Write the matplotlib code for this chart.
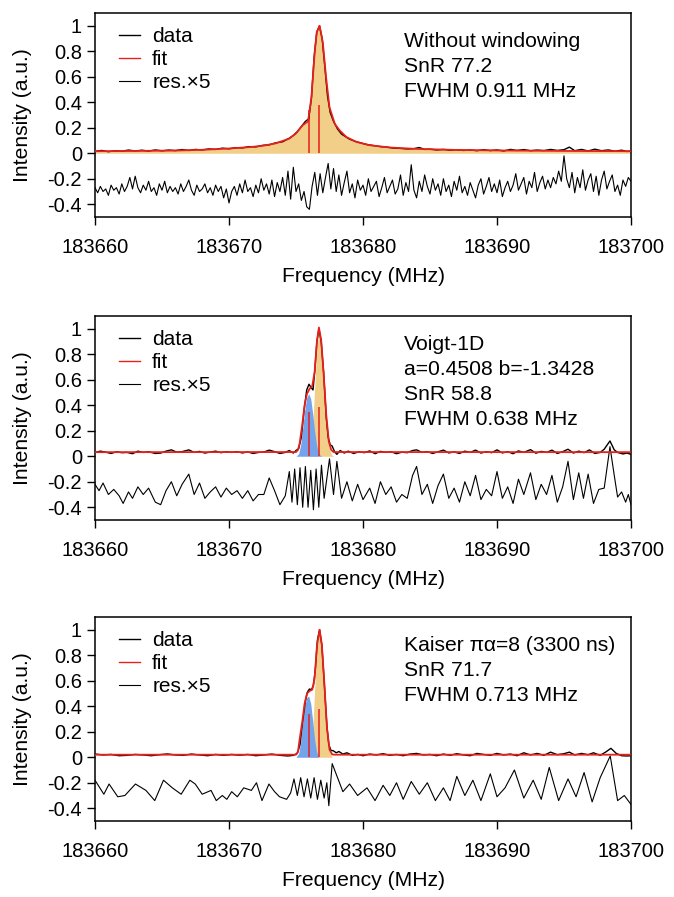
import numpy as np
import matplotlib
matplotlib.use("Agg")
import matplotlib.pyplot as plt
from matplotlib.lines import Line2D

plt.rcParams['font.family'] = ['Liberation Sans', 'DejaVu Sans']
plt.rcParams['font.size'] = 14.5

# ---------------- data ----------------
x_ticks = [183660, 183670, 183680, 183690, 183700]
y_ticks = [-0.4, -0.2, 0, 0.2, 0.4, 0.6, 0.8, 1]
y_tick_labels = ['-0.4', '-0.2', '0', '0.2', '0.4', '0.6', '0.8', '1']
x_label = 'Frequency (MHz)'
y_label = 'Intensity (a.u.)'
legend_labels = ['data', 'fit', 'res.×5']

texts1 = ['Without windowing', 'SnR 77.2', 'FWHM 0.911 MHz']
texts2 = ['Voigt-1D', 'a=0.4508 b=-1.3428', 'SnR 58.8', 'FWHM 0.638 MHz']
texts3 = ['Kaiser πα=8 (3300 ns)', 'SnR 71.7', 'FWHM 0.713 MHz']

# --- panel 1 (without windowing) ---
data1_f = [183660.0, 183660.5, 183661.0, 183661.5, 183662.0, 183662.5, 183663.0, 183663.5, 183664.0, 183664.5,
           183665.0, 183665.5, 183666.0, 183666.5, 183667.0, 183667.5, 183668.0, 183668.5, 183669.0, 183669.5,
           183670.0, 183670.5, 183671.0, 183671.5, 183672.0, 183672.5, 183673.0, 183673.5, 183674.0, 183674.5,
           183674.8, 183675.1, 183675.4, 183675.7, 183675.95, 183676.15, 183676.35, 183676.55, 183676.75, 183676.95,
           183677.15, 183677.35, 183677.55, 183677.8, 183678.1, 183678.4, 183678.7, 183679.0, 183679.4, 183679.8,
           183680.3, 183680.8, 183681.3, 183681.8, 183682.3, 183682.8, 183683.3, 183683.8, 183684.2, 183684.6,
           183685.0, 183685.5, 183686.0, 183686.5, 183687.0, 183687.5, 183688.0, 183688.5, 183689.0, 183689.5,
           183690.0, 183690.5, 183691.0, 183691.5, 183692.0, 183692.5, 183693.0, 183693.5, 183694.0, 183694.5,
           183695.0, 183695.4, 183695.8, 183696.3, 183696.8, 183697.3, 183697.8, 183698.3, 183698.8, 183699.3,
           183699.7, 183700.0]
data1_v = [0.015, 0.022, 0.012, 0.020, 0.016, 0.025, 0.018, 0.024, 0.017, 0.026,
           0.019, 0.025, 0.021, 0.029, 0.022, 0.030, 0.026, 0.034, 0.030, 0.040,
           0.035, 0.044, 0.042, 0.052, 0.050, 0.062, 0.066, 0.082, 0.090, 0.118,
           0.140, 0.17, 0.21, 0.25, 0.27, 0.43, 0.75, 0.95, 1.0, 0.90,
           0.68, 0.45, 0.32, 0.25, 0.19, 0.15, 0.13, 0.11, 0.094, 0.082,
           0.068, 0.060, 0.052, 0.048, 0.040, 0.038, 0.034, 0.036, 0.045, 0.030,
           0.032, 0.026, 0.030, 0.024, 0.028, 0.022, 0.026, 0.020, 0.028, 0.021,
           0.026, 0.018, 0.030, 0.022, 0.029, 0.020, 0.025, 0.021, 0.030, 0.022,
           0.028, 0.048, 0.020, 0.030, 0.018, 0.032, 0.020, 0.026, 0.016, 0.024,
           0.014, 0.018]

fit1_f = [183660, 183663, 183666, 183668, 183670, 183671.5, 183672.5, 183673.5, 183674.5, 183675.0,
          183675.5, 183675.9, 183676.15, 183676.4, 183676.55, 183676.76, 183677.0, 183677.25, 183677.5, 183677.9,
          183678.25, 183678.75, 183679.5, 183680.5, 183682, 183684, 183687, 183690, 183695, 183700]
fit1_v = [0.016, 0.018, 0.021, 0.027, 0.037, 0.048, 0.058, 0.078, 0.115, 0.155,
          0.22, 0.25, 0.44, 0.80, 0.95, 1.0, 0.87, 0.59, 0.36, 0.23,
          0.18, 0.128, 0.089, 0.063, 0.045, 0.034, 0.026, 0.022, 0.018, 0.016]

res1_v = [-0.27, -0.31, -0.26, -0.30, -0.28, -0.33, -0.25, -0.29, -0.27, -0.32,
          -0.24, -0.30, -0.26, -0.19, -0.28, -0.18, -0.27, -0.31, -0.25, -0.29,
          -0.22, -0.30, -0.27, -0.33, -0.24, -0.29, -0.22, -0.31, -0.26, -0.30,
          -0.27, -0.32, -0.24, -0.30, -0.26, -0.21, -0.29, -0.33, -0.25, -0.30,
          -0.28, -0.24, -0.31, -0.27, -0.33, -0.25, -0.30, -0.26, -0.35, -0.28,
          -0.39, -0.30, -0.26, -0.33, -0.24, -0.31, -0.21, -0.30, -0.27, -0.34,
          -0.25, -0.31, -0.20, -0.29, -0.24, -0.32, -0.21, -0.34, -0.23, -0.30,
          -0.19, -0.33, -0.14, -0.36, -0.11, -0.30, -0.24, -0.37, -0.30, -0.42,
          -0.44, -0.26, -0.15, -0.33, -0.16, -0.31, -0.19, -0.08, -0.28, -0.12,
          -0.30, -0.17, -0.33, -0.23, -0.14, -0.31, -0.24, -0.35, -0.21, -0.29,
          -0.25, -0.33, -0.20, -0.30, -0.26, -0.22, -0.34, -0.27, -0.19, -0.31,
          -0.26, -0.21, -0.32, -0.28, -0.17, -0.33, -0.23, -0.30, -0.09, -0.29,
          -0.35, -0.22, -0.30, -0.17, -0.26, -0.32, -0.20, -0.29, -0.24, -0.33,
          -0.20, -0.30, -0.25, -0.34, -0.22, -0.29, -0.18, -0.31, -0.26, -0.33,
          -0.23, -0.29, -0.35, -0.25, -0.20, -0.32, -0.26, -0.19, -0.30, -0.24,
          -0.31, -0.21, -0.34, -0.27, -0.22, -0.30, -0.25, -0.16, -0.29, -0.24,
          -0.19, -0.32, -0.22, -0.27, -0.15, -0.30, -0.23, -0.18, -0.28, -0.21,
          -0.27, -0.19, -0.24, -0.14, -0.22, -0.02, -0.20, -0.27, -0.15, -0.31,
          -0.19, -0.27, -0.13, -0.29, -0.21, -0.16, -0.30, -0.18, -0.33, -0.21,
          -0.14, -0.28, -0.22, -0.17, -0.30, -0.25, -0.33, -0.21, -0.26, -0.19,
          -0.22]
res1_f0, res1_f1 = 183660.0, 183700.0

comp1_f = fit1_f
comp1_v = fit1_v
stick1_f = [183675.96, 183676.70]
stick1_h = [0.343, 0.38]

# --- panel 2 (Voigt-1D) ---
data2_f = [183660.0, 183660.4, 183660.8, 183661.2, 183661.6, 183662.0, 183662.4, 183662.8, 183663.2, 183663.6,
           183664.0, 183664.5, 183664.9, 183665.3, 183665.7, 183666.1, 183666.5, 183667.0, 183667.4, 183667.8,
           183668.2, 183668.6, 183669.0, 183669.4, 183669.8, 183670.2, 183670.6, 183671.0, 183671.4, 183671.8,
           183672.2, 183672.6, 183673.0, 183673.4, 183673.8, 183674.2, 183674.5, 183674.8, 183675.0, 183675.2,
           183675.4, 183675.6, 183675.8, 183675.97, 183676.12, 183676.27, 183676.41, 183676.56, 183676.71, 183676.88,
           183677.06, 183677.26, 183677.4, 183677.55, 183677.7, 183677.88, 183678.05, 183678.3, 183678.6, 183678.9,
           183679.3, 183679.7, 183680.1, 183680.5, 183680.9, 183681.3, 183681.7, 183682.1, 183682.5, 183682.9,
           183683.3, 183683.7, 183684.0, 183684.4, 183684.8, 183685.2, 183685.6, 183686.0, 183686.4, 183686.8,
           183687.2, 183687.6, 183688.0, 183688.4, 183688.8, 183689.2, 183689.6, 183690.0, 183690.4, 183690.8,
           183691.2, 183691.6, 183692.0, 183692.5, 183692.9, 183693.3, 183693.7, 183694.1, 183694.5, 183694.9,
           183695.3, 183695.7, 183696.1, 183696.5, 183696.9, 183697.3, 183697.7, 183698.0, 183698.43, 183698.75,
           183699.0, 183699.4, 183699.7, 183700.0]
data2_v = [0.030, 0.040, 0.032, 0.022, 0.035, 0.028, 0.030, 0.020, 0.040, 0.030,
           0.035, 0.022, 0.025, 0.040, 0.050, 0.032, 0.036, 0.050, 0.030, 0.038,
           0.025, 0.033, 0.040, 0.028, 0.035, 0.030, 0.036, 0.026, 0.034, 0.022,
           0.030, 0.033, 0.048, 0.036, 0.022, 0.030, 0.045, 0.025, 0.045, 0.06,
           0.15, 0.36, 0.52, 0.565, 0.54, 0.52, 0.68, 0.90, 1.0, 0.90,
           0.66, 0.30, 0.15, 0.09, 0.08, 0.035, 0.015, 0.045, 0.025, 0.040,
           0.022, 0.035, 0.028, 0.042, 0.020, 0.038, 0.030, 0.035, 0.020, 0.032,
           0.028, 0.045, 0.050, 0.030, 0.036, 0.022, 0.035, 0.048, 0.026, 0.034,
           0.022, 0.040, 0.030, 0.048, 0.025, 0.036, 0.028, 0.050, 0.026, 0.036,
           0.020, 0.042, 0.030, 0.052, 0.024, 0.038, 0.030, 0.048, 0.022, 0.036,
           0.055, 0.025, 0.040, 0.028, 0.050, 0.022, 0.030, 0.055, 0.120, 0.050,
           0.030, 0.018, 0.025, 0.015]

fit2_f = [183660, 183675.0, 183675.15, 183675.27, 183675.47, 183675.64, 183675.82, 183676.02, 183676.21, 183676.39,
          183676.56, 183676.71, 183676.88, 183677.06, 183677.26, 183677.45, 183677.63, 183677.8, 183700]
fit2_v = [0.032, 0.033, 0.05, 0.10, 0.25, 0.40, 0.49, 0.53, 0.55, 0.66,
          0.90, 1.01, 0.91, 0.65, 0.32, 0.115, 0.05, 0.033, 0.032]

res2_f = [183660.0, 183660.3, 183660.6, 183661.0, 183661.4, 183661.8, 183662.1, 183662.5, 183662.8, 183663.2,
          183663.6, 183664.0, 183664.5, 183664.9, 183665.3, 183665.7, 183666.1, 183666.5, 183667.0, 183667.4,
          183667.8, 183668.2, 183668.6, 183669.0, 183669.4, 183669.8, 183670.2, 183670.6, 183671.0, 183671.4,
          183671.8, 183672.2, 183672.6, 183673.0, 183673.4, 183673.8, 183674.2, 183674.5, 183674.7, 183674.9,
          183675.1, 183675.3, 183675.5, 183675.7, 183675.9, 183676.1, 183676.3, 183676.5, 183676.7, 183676.9,
          183677.1, 183677.5, 183677.8, 183678.05, 183678.4, 183678.8, 183679.2, 183679.6, 183680.0, 183680.5,
          183680.9, 183681.3, 183681.7, 183682.1, 183682.5, 183682.9, 183683.3, 183683.7, 183684.0, 183684.4,
          183684.8, 183685.2, 183685.6, 183686.0, 183686.4, 183686.8, 183687.2, 183687.6, 183688.0, 183688.4,
          183688.8, 183689.2, 183689.6, 183690.0, 183690.4, 183690.8, 183691.2, 183691.6, 183692.0, 183692.5,
          183692.9, 183693.3, 183693.7, 183694.1, 183694.5, 183694.9, 183695.3, 183695.7, 183696.1, 183696.45,
          183696.8, 183697.2, 183697.6, 183698.0, 183698.43, 183698.75, 183699.0, 183699.3, 183699.6, 183699.8,
          183700.0]
res2_v = [-0.22, -0.27, -0.21, -0.30, -0.26, -0.31, -0.37, -0.28, -0.33, -0.24,
          -0.30, -0.25, -0.36, -0.38, -0.27, -0.20, -0.31, -0.22, -0.14, -0.30,
          -0.21, -0.33, -0.28, -0.24, -0.32, -0.25, -0.30, -0.27, -0.33, -0.27,
          -0.35, -0.30, -0.30, -0.17, -0.27, -0.38, -0.31, -0.12, -0.36, -0.10,
          -0.38, -0.09, -0.40, -0.08, -0.40, -0.11, -0.42, -0.10, -0.40, -0.07,
          -0.33, -0.02, -0.30, -0.04, -0.33, -0.20, -0.35, -0.22, -0.34, -0.25,
          -0.37, -0.20, -0.30, -0.24, -0.36, -0.30, -0.33, -0.15, -0.08, -0.30,
          -0.22, -0.37, -0.23, -0.14, -0.33, -0.25, -0.36, -0.20, -0.31, -0.15,
          -0.34, -0.26, -0.31, -0.12, -0.33, -0.24, -0.37, -0.18, -0.30, -0.13,
          -0.34, -0.22, -0.30, -0.15, -0.36, -0.24, -0.04, -0.34, -0.13, -0.33,
          -0.14, -0.37, -0.26, -0.25, 0.075, -0.15, -0.32, -0.28, -0.36, -0.30,
          -0.38]

blue2_f = [183675.0, 183675.2, 183675.35, 183675.5, 183675.65, 183675.8, 183675.95, 183676.1, 183676.25, 183676.4,
           183676.55, 183676.7, 183676.9]
blue2_v = [0.0, 0.02, 0.09, 0.22, 0.36, 0.46, 0.49, 0.45, 0.33, 0.19,
           0.08, 0.02, 0.0]
orange2_f = [183675.9, 183676.1, 183676.25, 183676.4, 183676.55, 183676.72, 183676.9, 183677.06, 183677.26, 183677.45,
             183677.63, 183677.8]
orange2_v = [0.0, 0.06, 0.25, 0.55, 0.85, 0.97, 0.88, 0.62, 0.29, 0.08,
             0.015, 0.0]
stick2_f = [183675.96, 183676.70]
stick2_h = [0.35, 0.39]

# --- panel 3 (Kaiser) ---
data3_f = [183660.0, 183660.6, 183661.2, 183661.8, 183662.4, 183663.0, 183663.6, 183664.2, 183664.8, 183665.4,
           183666.0, 183666.6, 183667.2, 183667.8, 183668.4, 183669.0, 183669.6, 183670.2, 183670.8, 183671.4,
           183672.0, 183672.6, 183673.2, 183673.8, 183674.4, 183674.8, 183675.1, 183675.3, 183675.5, 183675.7,
           183675.85, 183676.0, 183676.15, 183676.3, 183676.45, 183676.6, 183676.76, 183676.93, 183677.11, 183677.31,
           183677.45, 183677.6, 183677.8, 183678.0, 183678.2, 183678.5, 183678.8, 183679.2, 183679.6, 183680.0,
           183680.5, 183681.0, 183681.5, 183682.0, 183682.5, 183683.0, 183683.5, 183684.0, 183684.5, 183685.0,
           183685.5, 183686.0, 183686.5, 183687.0, 183687.5, 183688.0, 183688.5, 183689.0, 183689.5, 183690.0,
           183690.5, 183691.0, 183691.5, 183692.0, 183692.5, 183693.0, 183693.5, 183694.0, 183694.5, 183695.0,
           183695.4, 183695.8, 183696.3, 183696.8, 183697.2, 183697.7, 183698.1, 183698.5, 183698.9, 183699.3,
           183699.7, 183700.0]
data3_v = [0.025, 0.018, 0.022, 0.012, 0.015, 0.022, 0.018, 0.012, 0.020, 0.026,
           0.018, 0.015, 0.025, 0.018, 0.012, 0.022, 0.015, 0.022, 0.016, 0.022,
           0.012, 0.018, 0.025, 0.015, 0.010, 0.015, 0.03, 0.10, 0.28, 0.44,
           0.51, 0.535, 0.53, 0.56, 0.70, 0.92, 1.0, 0.88, 0.58, 0.24,
           0.10, 0.055, 0.050, 0.035, 0.045, 0.025, 0.035, 0.015, 0.022, 0.012,
           0.025, 0.018, 0.028, 0.015, 0.022, 0.012, 0.025, 0.030, 0.018, 0.022,
           0.012, 0.025, 0.015, 0.028, 0.018, 0.012, 0.030, 0.022, 0.015, 0.030,
           0.018, 0.025, 0.012, 0.035, 0.018, 0.030, 0.015, 0.040, 0.020, 0.028,
           0.040, 0.018, 0.030, 0.020, 0.035, 0.015, 0.040, 0.070, 0.030, 0.012,
           0.010, 0.012]

fit3_f = [183660, 183675.0, 183675.15, 183675.27, 183675.47, 183675.64, 183675.82, 183676.02, 183676.21, 183676.39,
          183676.56, 183676.76, 183676.93, 183677.11, 183677.31, 183677.50, 183677.70, 183677.9, 183700]
fit3_v = [0.02, 0.02, 0.045, 0.14, 0.28, 0.42, 0.50, 0.52, 0.53, 0.62,
          0.87, 1.0, 0.88, 0.59, 0.23, 0.06, 0.022, 0.02, 0.02]

res3_f = [183660.0, 183660.66, 183661.05, 183661.7, 183662.23, 183663.02, 183663.8, 183664.46, 183665.11, 183665.77,
          183666.43, 183667.08, 183667.48, 183668.0, 183668.66, 183669.05, 183669.5, 183669.84, 183670.2, 183670.62,
          183671.1, 183671.67, 183672.05, 183672.46, 183672.98, 183673.4, 183673.77, 183674.3, 183674.6, 183674.85,
          183675.1, 183675.35, 183675.6, 183675.85, 183676.1, 183676.35, 183676.6, 183676.85, 183677.1, 183677.3,
          183677.45, 183677.7, 183678.1, 183678.5, 183679.0, 183679.6, 183680.3, 183680.9, 183681.5, 183682.0,
          183682.5, 183683.0, 183683.6, 183684.2, 183684.8, 183685.4, 183686.0, 183686.5, 183687.0, 183687.6,
          183688.2, 183688.8, 183689.5, 183690.0, 183690.6, 183691.3, 183692.0, 183692.7, 183693.3, 183693.9,
          183694.6, 183695.3, 183695.9, 183696.5, 183697.1, 183697.7, 183698.45, 183699.0, 183699.5, 183700.0]
res3_v = [-0.18, -0.29, -0.21, -0.31, -0.30, -0.21, -0.26, -0.34, -0.18, -0.24,
          -0.29, -0.18, -0.21, -0.29, -0.26, -0.34, -0.30, -0.33, -0.27, -0.31,
          -0.24, -0.26, -0.20, -0.34, -0.21, -0.27, -0.31, -0.33, -0.28, -0.17,
          -0.30, -0.16, -0.31, -0.17, -0.32, -0.16, -0.33, -0.18, -0.32, -0.20,
          -0.38, -0.05, -0.16, -0.27, -0.21, -0.30, -0.24, -0.34, -0.22, -0.30,
          -0.20, -0.33, -0.19, -0.29, -0.20, -0.34, -0.24, -0.34, -0.15, -0.30,
          -0.18, -0.34, -0.13, -0.31, -0.24, -0.10, -0.32, -0.18, -0.33, -0.08,
          -0.34, -0.17, -0.31, -0.12, -0.35, -0.16, 0.01, -0.34, -0.30, -0.37]

blue3_f = [183675.0, 183675.2, 183675.35, 183675.5, 183675.65, 183675.8, 183675.95, 183676.1, 183676.25, 183676.4,
           183676.55, 183676.7]
blue3_v = [0.0, 0.03, 0.12, 0.27, 0.40, 0.47, 0.48, 0.42, 0.28, 0.13,
           0.04, 0.0]
orange3_f = [183675.95, 183676.1, 183676.25, 183676.4, 183676.55, 183676.74, 183676.93, 183677.11, 183677.31, 183677.5,
             183677.7]
orange3_v = [0.0, 0.05, 0.22, 0.55, 0.85, 0.98, 0.86, 0.57, 0.21, 0.04,
             0.0]
stick3_f = [183675.96, 183676.70]
stick3_h = [0.34, 0.376]

# ---------------- drawing ----------------
ORANGE = '#F2CF88'
BLUE = '#74A3EC'
RED = '#E8201A'

fig = plt.figure(figsize=(6.74, 8.97), dpi=100)
W, H = 674.0, 897.0
left, right = 95.0, 631.0
panel_tops = [13.0, 316.0, 617.0]
panel_h = 204.0


def make_axes(top):
    return fig.add_axes([left / W, 1 - (top + panel_h) / H, (right - left) / W, panel_h / H])


def style(ax, texts):
    ax.set_xlim(183660, 183700)
    ax.set_ylim(-0.5, 1.1)
    ax.set_xticks(x_ticks)
    ax.set_xticklabels([str(t) for t in x_ticks])
    ax.set_yticks(y_ticks)
    ax.set_yticklabels(y_tick_labels)
    ax.tick_params(direction='out', length=5.8, width=1.0, pad=3.5, labelsize=14.5,
                   top=False, right=False)
    ax.tick_params(axis='x', pad=9)
    for s in ax.spines.values():
        s.set_linewidth(1.1)
    ax.set_xlabel(x_label, fontsize=15.2, labelpad=7.5)
    ax.set_ylabel(y_label, fontsize=15.2)
    ax.yaxis.set_label_coords(-0.118, 0.5)
    for i, t in enumerate(texts):
        ax.text(0.577, 1 - (28.0 + 25.2 * i) / panel_h, t, transform=ax.transAxes,
                fontsize=15.2, va='center', ha='left')
    handles = [Line2D([], [], color='black', lw=1.0),
               Line2D([], [], color=RED, lw=1.0),
               Line2D([], [], color='black', lw=0.8)]
    ax.legend(handles, legend_labels, loc='upper left', bbox_to_anchor=(0.025, 1 - 3.5 / panel_h),
              frameon=False, handlelength=1.0, handletextpad=0.6, labelspacing=0.2,
              borderaxespad=0.3, borderpad=0.2, fontsize=15)


def panel(ax, data_f, data_v, fit_f, fit_v, res_f, res_v, comps, stick_f, stick_h, texts):
    for cf, cv, col in comps:
        ax.fill_between(cf, 0, cv, color=col, lw=0, zorder=1)
    ax.vlines(stick_f, 0, stick_h, colors=RED, lw=1.1, zorder=2)
    ax.plot(data_f, data_v, color='black', lw=1.0, zorder=3)
    ax.plot(fit_f, fit_v, color=RED, lw=1.3, zorder=4)
    ax.plot(res_f, res_v, color='black', lw=0.8, zorder=3)
    style(ax, texts)


ax1 = make_axes(panel_tops[0])
res1_f = np.linspace(res1_f0, res1_f1, len(res1_v))
panel(ax1, data1_f, data1_v, fit1_f, fit1_v, res1_f, res1_v,
      [(comp1_f, comp1_v, ORANGE)], stick1_f, stick1_h, texts1)

ax2 = make_axes(panel_tops[1])
panel(ax2, data2_f, data2_v, fit2_f, fit2_v, res2_f, res2_v,
      [(orange2_f, orange2_v, ORANGE), (blue2_f, blue2_v, BLUE)], stick2_f, stick2_h, texts2)

ax3 = make_axes(panel_tops[2])
panel(ax3, data3_f, data3_v, fit3_f, fit3_v, res3_f, res3_v,
      [(orange3_f, orange3_v, ORANGE), (blue3_f, blue3_v, BLUE)], stick3_f, stick3_h, texts3)

fig.savefig('out.png', dpi=100)
